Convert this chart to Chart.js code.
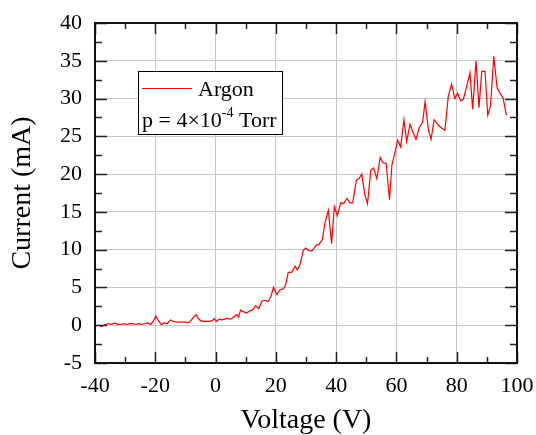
<!DOCTYPE html>
<html>
<head>
<meta charset="utf-8">
<script src="https://cdn.jsdelivr.net/npm/chart.js@4"></script>
<style>
  body { margin: 0; background: #fff; }
</style>
</head>
<body>
<canvas id="chart" width="536" height="435"></canvas>
<script>
// Datos (Voltaje en V, Corriente en mA)
const voltage = [-38.3, -37.5, -36.5, -35.5, -34.5, -33.5, -32.5, -31.5, -30.5, -29.5, -28.5, -27.5, -26.5, -25.5, -24.5, -23.5, -22.5, -21.5, -20.7, -19.8,
  -19.0, -18.0, -17.0, -16.0, -15.0, -14.0, -13.0, -12.0, -11.0, -10.0, -9.0, -8.0, -7.0, -6.4, -5.8, -5.0, -4.0, -3.0, -2.0, -1.0,
  -0.5, 0.3, 1.2, 2.0, 3.0, 4.0, 5.0, 6.0, 7.0, 7.6, 8.3, 9.2, 10.3, 11.3, 12.2, 13.3, 14.3, 15.4, 16.5, 17.3,
  18.3, 19.2, 20.3, 21.4, 22.5, 23.2, 24.1, 25.2, 26.4, 27.1, 28.0, 29.1, 29.9, 30.8, 31.9, 32.7, 33.4, 34.3, 35.4, 36.3,
  37.4, 38.5, 39.4, 40.4, 41.5, 42.5, 43.6, 44.5, 45.5, 46.7, 47.6, 48.5, 49.5, 50.4, 51.5, 52.4, 53.5, 54.6, 55.5, 56.6,
  57.7, 58.5, 59.6, 60.4, 61.4, 62.5, 63.4, 64.5, 65.4, 66.5, 67.6, 68.7, 69.5, 70.6, 71.5, 72.5, 73.8, 75.0, 76.1, 77.2,
  78.3, 79.4, 80.3, 81.3, 82.2, 83.3, 84.4, 85.3, 86.4, 87.4, 88.3, 89.4, 90.3, 91.2, 92.3, 93.4, 95.4, 96.5];
const current = [-0.2, -0.1, 0.1, 0.2, 0.1, 0.3, 0.1, 0.1, 0.2, 0.1, 0.2, 0.2, 0.1, 0.2, 0.1, 0.2, 0.3, 0.1, 0.5, 1.2,
  0.6, 0.1, 0.3, 0.2, 0.7, 0.5, 0.4, 0.4, 0.4, 0.4, 0.3, 0.7, 1.2, 1.4, 0.9, 0.6, 0.5, 0.5, 0.5, 0.6,
  0.9, 0.5, 0.8, 0.7, 0.8, 0.9, 0.8, 1.1, 1.4, 1.1, 2.0, 1.8, 1.6, 1.9, 2.0, 2.6, 2.2, 3.2, 3.3, 3.1,
  3.7, 5.0, 4.1, 4.7, 4.8, 5.3, 7.0, 7.0, 7.8, 7.3, 8.0, 9.9, 10.2, 9.9, 9.8, 10.2, 10.6, 10.7, 11.3, 13.5,
  15.2, 10.8, 15.7, 14.5, 16.2, 16.1, 16.8, 16.2, 16.2, 19.2, 19.4, 20.0, 17.3, 16.1, 20.5, 20.8, 19.4, 22.2, 21.5, 21.4,
  16.6, 21.2, 23.0, 24.5, 23.6, 27.2, 24.3, 26.6, 25.6, 24.6, 26.2, 26.9, 29.6, 25.9, 24.6, 27.2, 26.5, 26.1, 25.8, 30.3,
  31.9, 30.0, 30.7, 29.7, 29.9, 31.6, 33.4, 28.6, 35.0, 28.8, 33.6, 33.6, 27.8, 29.0, 35.6, 31.4, 30.0, 27.8];

// Marcas de los ejes
const xMajor = [-40, -20, 0, 20, 40, 60, 80, 100];
const xMinor = [-30, -10, 10, 30, 50, 70, 90];
const yMajor = [-5, 0, 5, 10, 15, 20, 25, 30, 35, 40];
const yMinor = [-2.5, 2.5, 7.5, 12.5, 17.5, 22.5, 27.5, 32.5, 37.5];

const FONT = "'Liberation Serif', 'Times New Roman', serif";

const points = voltage.map((v, i) => ({ x: v, y: current[i] }));

// Marcas hacia adentro y marco del gráfico
const frameTicks = {
  id: 'frameTicks',
  afterDatasetsDraw(chart) {
    const { ctx, chartArea: a, scales: { x, y } } = chart;
    ctx.save();
    ctx.strokeStyle = '#222';
    ctx.lineWidth = 1.5;
    ctx.beginPath();
    xMajor.concat(xMinor).forEach(v => {
      const px = Math.round(x.getPixelForValue(v)) + 0.5;
      const len = xMajor.includes(v) ? 11 : 6;
      ctx.moveTo(px, a.bottom); ctx.lineTo(px, a.bottom - len);
      ctx.moveTo(px, a.top); ctx.lineTo(px, a.top + len);
    });
    yMajor.concat(yMinor).forEach(v => {
      const py = Math.round(y.getPixelForValue(v)) + 0.5;
      const len = yMajor.includes(v) ? 12 : 7;
      ctx.moveTo(a.left, py); ctx.lineTo(a.left + len, py);
      ctx.moveTo(a.right, py); ctx.lineTo(a.right - len, py);
    });
    ctx.stroke();
    ctx.lineWidth = 2;
    ctx.strokeStyle = '#111';
    ctx.strokeRect(a.left, a.top, a.right - a.left, a.bottom - a.top);
    ctx.restore();
  }
};

// Leyenda con dos líneas
const legendBox = {
  id: 'legendBox',
  afterDraw(chart) {
    const ctx = chart.ctx;
    ctx.save();
    ctx.fillStyle = '#fff';
    ctx.fillRect(138.5, 71.5, 144, 63);
    ctx.strokeStyle = '#000';
    ctx.lineWidth = 1;
    ctx.strokeRect(138.5, 71.5, 144, 63);
    ctx.strokeStyle = '#ff0000';
    ctx.beginPath();
    ctx.moveTo(142, 88.5); ctx.lineTo(192, 88.5);
    ctx.stroke();
    ctx.fillStyle = '#000';
    ctx.textBaseline = 'alphabetic';
    ctx.font = '22px ' + FONT;
    ctx.fillText('Argon', 198, 96);
    let xPos = 142;
    ctx.fillText('p = 4×10', xPos, 127);
    xPos += ctx.measureText('p = 4×10').width;
    ctx.font = '14px ' + FONT;
    ctx.fillText('-4', xPos, 117);
    xPos += ctx.measureText('-4').width;
    ctx.font = '22px ' + FONT;
    ctx.fillText(' Torr', xPos, 127);
    ctx.restore();
  }
};

new Chart(document.getElementById('chart'), {
  type: 'scatter',
  data: {
    datasets: [{
      label: 'Argon',
      data: points,
      showLine: true,
      borderColor: '#ff0000',
      borderWidth: 1.2,
      pointRadius: 0,
      tension: 0
    }]
  },
  options: {
    responsive: false,
    animation: false,
    layout: { padding: { left: 0, right: 19, top: 23, bottom: 0 } },
    plugins: { legend: { display: false }, tooltip: { enabled: false } },
    scales: {
      x: {
        type: 'linear',
        min: -40,
        max: 100,
        afterBuildTicks: s => { s.ticks = xMajor.map(v => ({ value: v })); },
        afterFit: s => { s.height = 72; s.paddingLeft = 0; s.paddingRight = 0; },
        grid: { color: '#c8c8c8', lineWidth: 1, drawTicks: false },
        border: { display: false },
        ticks: { color: '#000', font: { family: FONT, size: 22 }, padding: 10, autoSkip: false, maxRotation: 0 },
        title: { display: true, text: 'Voltage (V)', color: '#000', font: { family: FONT, size: 28 }, padding: { top: 0, bottom: -2 } }
      },
      y: {
        type: 'linear',
        min: -5,
        max: 40,
        afterBuildTicks: s => { s.ticks = yMajor.map(v => ({ value: v })); },
        afterFit: s => { s.width = 95; s.paddingTop = 0; s.paddingBottom = 0; },
        grid: { color: '#c8c8c8', lineWidth: 1, drawTicks: false },
        border: { display: false },
        ticks: { color: '#000', font: { family: FONT, size: 22 }, padding: 13, autoSkip: false },
        title: { display: true, text: 'Current (mA)', color: '#000', font: { family: FONT, size: 28 }, padding: { top: 6, bottom: 4 } }
      }
    }
  },
  plugins: [frameTicks, legendBox]
});
</script>
</body>
</html>
